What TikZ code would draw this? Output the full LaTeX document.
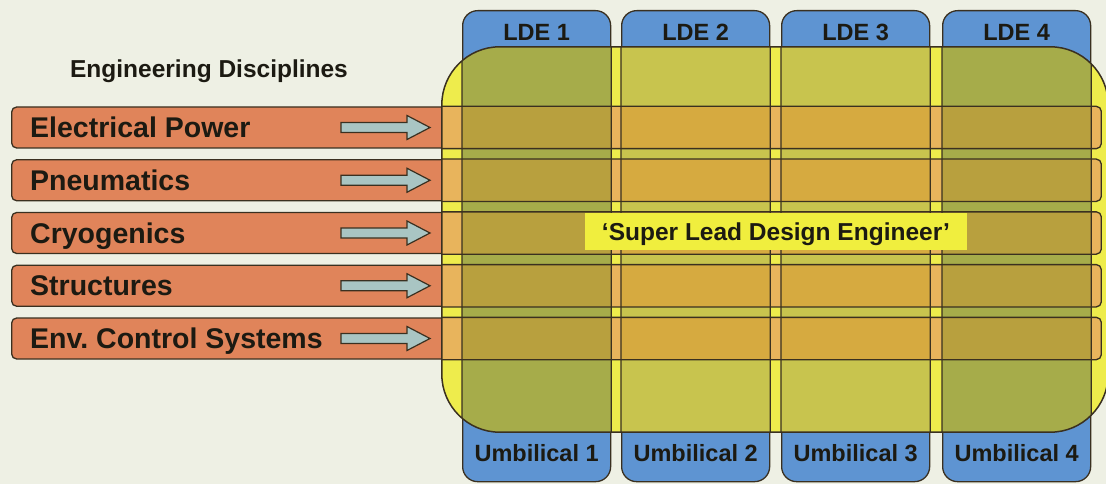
\documentclass[tikz,border=0pt]{standalone}
\usepackage{fontspec}
\setmainfont{Liberation Sans}
\usetikzlibrary{calc}
\frenchspacing
\definecolor{bg}{HTML}{EEF0E4}
\definecolor{orng}{HTML}{E0845A}
\definecolor{blu}{HTML}{5E94D2}
\definecolor{ylw}{HTML}{EEEC4C}
\definecolor{oy}{HTML}{E8B45C}
\definecolor{colA}{HTML}{A6AC4A}
\definecolor{colB}{HTML}{C8C44E}
\definecolor{barA}{HTML}{B8A03E}
\definecolor{barB}{HTML}{D6AA40}
\definecolor{edge}{HTML}{3A3020}
\definecolor{arr}{HTML}{A9C5C3}
\definecolor{ink}{HTML}{1C1A12}
\definecolor{lbly}{HTML}{F0EE3E}
\begin{document}
\begin{tikzpicture}[x=1pt,y=-1pt,
  barbox/.style={draw=edge, line width=1.3pt, fill=orng, rounded corners=5pt,
    minimum width=1089pt, minimum height=41pt, inner sep=0pt, anchor=west},
  colbox/.style={draw=edge, line width=1.3pt, fill=blu, rounded corners=15pt,
    minimum width=148pt, minimum height=471pt, inner sep=0pt, anchor=north west},
  disc/.style={font=\fontsize{28.5}{31}\selectfont\bfseries, text=ink, inner sep=0pt,
    text height=20.4pt, text depth=0pt, anchor=west},
  collab/.style={font=\fontsize{23.5}{26}\selectfont\bfseries, text=ink, inner sep=0pt,
    text height=16.8pt, text depth=0pt},
  arrowst/.style={draw=edge, line width=1.2pt, fill=arr, line join=miter},
  sldebox/.style={minimum width=666pt, minimum height=385pt, inner sep=0pt},
  sldelab/.style={fill=lbly, minimum width=382pt, minimum height=37pt, inner sep=0pt,
    font=\fontsize{24.5}{27}\selectfont\bfseries, text=ink, text height=17.5pt, text depth=0pt},
  title/.style={font=\fontsize{24.5}{27}\selectfont\bfseries, text=ink, inner sep=0pt,
    text height=17.5pt, text depth=0pt}
]
\useasboundingbox (0,0) rectangle (1106,484);
\fill[bg] (0,0) rectangle (1106,484);

\node[title] (head) at (209,69) {Engineering Disciplines};

% discipline bars
\foreach \i in {1,...,5}{
  \node[barbox] (bar\i) at (11,{127.5+(\i-1)*52.75}) {};
}
% columns
\foreach \i/\x in {1/462,2/621,3/781,4/942}{
  \node[colbox] (col\i) at (\x,10) {};
}
% arrows
\foreach \i in {1,...,5}{
  \draw[arrowst] ($(bar\i.west)+(330,-5)$) -- ++(66,0) -- ++(0,-7) -- ++(23,12)
     -- ++(-23,12) -- ++(0,-7) -- ++(-66,0) -- cycle;
}
% super LDE overlay
\node[sldebox] (slde) at (775,239.5) {};
\begin{scope}
  \clip[rounded corners=58pt] (slde.south west) rectangle (slde.north east);
  \fill[ylw] (slde.south west) rectangle (slde.north east);
  \foreach \i in {1,...,5}{
    \fill[oy, rounded corners=5pt] (bar\i.south west) rectangle (bar\i.north east);
  }
  \foreach \c/\cc/\bc in {1/colA/barA,2/colB/barB,3/colB/barB,4/colA/barA}{
    \begin{scope}
      \clip[rounded corners=15pt] (col\c.south west) rectangle (col\c.north east);
      \fill[\cc] (col\c.south west) rectangle (col\c.north east);
      \foreach \i in {1,...,5}{
        \fill[\bc, rounded corners=5pt] (bar\i.south west) rectangle (bar\i.north east);
      }
    \end{scope}
  }
  \foreach \i in {1,...,5}{
    \draw[edge, line width=1.3pt, rounded corners=5pt] (bar\i.south west) rectangle (bar\i.north east);
  }
  \foreach \c in {1,...,4}{
    \draw[edge, line width=1.3pt, rounded corners=15pt] (col\c.south west) rectangle (col\c.north east);
  }
\end{scope}
\draw[edge, line width=1.5pt, rounded corners=58pt] (slde.south west) rectangle (slde.north east);

% labels
\foreach \i/\t in {1/Electrical Power,2/Pneumatics,3/Cryogenics,4/Structures,5/Env. Control Systems}{
  \node[disc] (lab\i) at ([xshift=19pt]bar\i.west) {\t};
}
\foreach \c in {1,...,4}{
  \node[collab] (lde\c) at ($(col\c.north)+(0,22)$) {LDE \c};
  \node[collab] (umb\c) at ($(col\c.south)+(0,-29.5)$) {Umbilical \c};
}
\node[sldelab] (sldetxt) at (776,231.5) {‘Super Lead Design Engineer’};
\end{tikzpicture}
\end{document}
